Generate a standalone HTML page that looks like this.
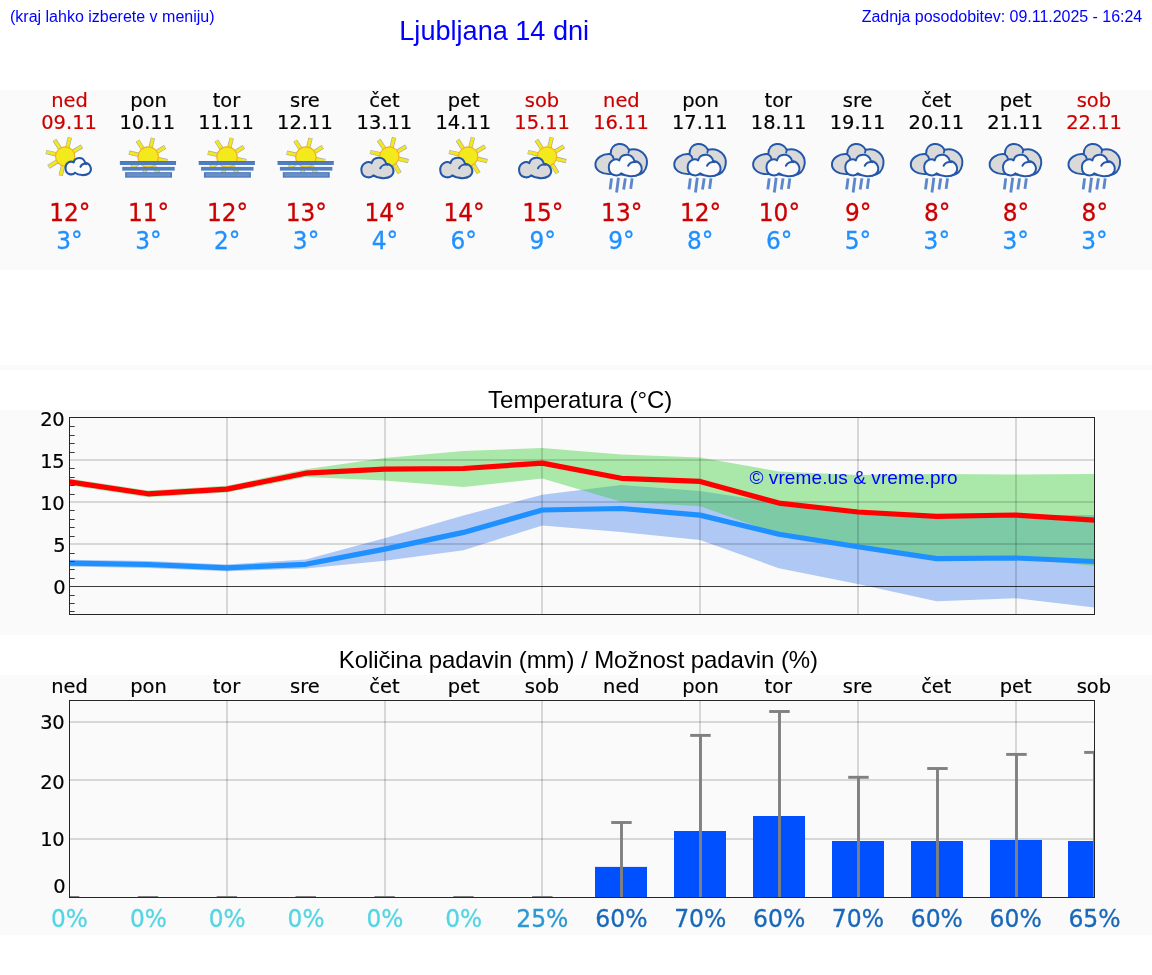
<!DOCTYPE html>
<html lang="sl"><head><meta charset="utf-8"><title>Ljubljana 14 dni</title>
<style>html,body{margin:0;padding:0;background:#fff}body{width:1152px;height:975px;overflow:hidden}svg{display:block}</style>
</head><body>
<svg width="1152" height="975" viewBox="0 0 1152 975">
<defs>
<clipPath id="ct"><rect x="69.5" y="417.5" width="1025.0" height="197.0"/></clipPath>
<clipPath id="cp"><rect x="69.5" y="700.5" width="1025.0" height="197.0"/></clipPath>
</defs>
<rect width="1152" height="975" fill="#fff"/>
<rect x="0" y="90" width="1152" height="180" fill="#fafafa"/>
<rect x="0" y="365" width="1152" height="5" fill="#fafafa"/>
<rect x="0" y="410" width="1152" height="225" fill="#fafafa"/>
<rect x="0" y="675" width="1152" height="260" fill="#fafafa"/>
<g style="font-family:'Liberation Sans',Arial,sans-serif" fill="#0000ff">
<text x="10" y="21.6" font-size="16">(kraj lahko izberete v meniju)</text>
<text x="399.3" y="40.2" font-size="27.1">Ljubljana 14 dni</text>
<text x="861.7" y="21.6" font-size="16" textLength="280.5" lengthAdjust="spacing">Zadnja posodobitev: 09.11.2025 - 16:24</text>
</g>
<g style="font-family:'DejaVu Sans','Liberation Sans',sans-serif" text-anchor="middle">
<text x="69.50" y="106.7" font-size="19.44" fill="#cc0000" stroke="#cc0000" stroke-width="0.2">ned</text>
<text x="69.05" y="129.2" font-size="19.44" fill="#cc0000" stroke="#cc0000" stroke-width="0.2">09.11</text>
<g transform="translate(69.50 0)"><g><g transform="translate(-34.5 130) scale(0.06151)"><line x1="619" y1="353" x2="764" y2="265" stroke="#6e6e80" stroke-opacity="0.6" stroke-width="70"/><line x1="526" y1="284" x2="567" y2="120" stroke="#6e6e80" stroke-opacity="0.6" stroke-width="70"/><line x1="408" y1="304" x2="316" y2="162" stroke="#6e6e80" stroke-opacity="0.6" stroke-width="70"/><line x1="344" y1="396" x2="178" y2="358" stroke="#6e6e80" stroke-opacity="0.6" stroke-width="70"/><line x1="363" y1="509" x2="219" y2="600" stroke="#6e6e80" stroke-opacity="0.6" stroke-width="70"/><line x1="456" y1="576" x2="418" y2="742" stroke="#6e6e80" stroke-opacity="0.6" stroke-width="70"/><line x1="619" y1="353" x2="759" y2="268" stroke="#f1e81e" stroke-width="50"/><line x1="526" y1="284" x2="566" y2="125" stroke="#f1e81e" stroke-width="50"/><line x1="408" y1="304" x2="319" y2="167" stroke="#f1e81e" stroke-width="50"/><line x1="344" y1="396" x2="184" y2="359" stroke="#f1e81e" stroke-width="50"/><line x1="363" y1="509" x2="224" y2="596" stroke="#f1e81e" stroke-width="50"/><line x1="456" y1="576" x2="419" y2="736" stroke="#f1e81e" stroke-width="50"/><circle cx="490" cy="430" r="156" fill="#f3ea1d" stroke="#f8ae1c" stroke-width="18"/><g transform="translate(349.18918918918916 74.8468468468468) scale(0.7927927927927928 0.8403603603603604)"><path d="M 380 738 C 335 790, 190 785, 185 650 C 182 545, 290 495, 352 538 C 375 440, 545 405, 590 548 C 700 560, 745 680, 665 750 C 600 800, 450 790, 380 738 Z" fill="#fcfcfc" stroke="#2457a9" stroke-width="42" stroke-linejoin="round"/><path d="M 492 622 C 510 582, 560 552, 612 566" fill="none" stroke="#2457a9" stroke-width="42" stroke-linecap="round"/></g></g></g></g>
<text transform="translate(69.80 220.8) scale(0.985 1.055)" font-size="23.61" fill="#cc0000" stroke="#cc0000" stroke-width="0.3">12°</text>
<text transform="translate(69.50 248.8) scale(0.985 1.055)" font-size="23.61" fill="#1e90ff" stroke="#1e90ff" stroke-width="0.3">3°</text>
<text x="148.55" y="106.7" font-size="19.44" fill="#000" stroke="#000" stroke-width="0.2">pon</text>
<text x="147.25" y="129.2" font-size="19.44" fill="#000" stroke="#000" stroke-width="0.2">10.11</text>
<g transform="translate(148.35 0)"><g><g transform="translate(-35.35 130) scale(0.06151)"><line x1="701" y1="363" x2="846" y2="275" stroke="#6e6e80" stroke-opacity="0.6" stroke-width="70"/><line x1="608" y1="294" x2="649" y2="130" stroke="#6e6e80" stroke-opacity="0.6" stroke-width="70"/><line x1="490" y1="314" x2="398" y2="172" stroke="#6e6e80" stroke-opacity="0.6" stroke-width="70"/><line x1="426" y1="406" x2="260" y2="368" stroke="#6e6e80" stroke-opacity="0.6" stroke-width="70"/><line x1="445" y1="519" x2="301" y2="610" stroke="#6e6e80" stroke-opacity="0.6" stroke-width="70"/><line x1="538" y1="586" x2="500" y2="752" stroke="#6e6e80" stroke-opacity="0.6" stroke-width="70"/><line x1="651" y1="567" x2="742" y2="711" stroke="#6e6e80" stroke-opacity="0.6" stroke-width="70"/><line x1="719" y1="471" x2="885" y2="507" stroke="#6e6e80" stroke-opacity="0.6" stroke-width="70"/><line x1="701" y1="363" x2="841" y2="278" stroke="#f1e81e" stroke-width="50"/><line x1="608" y1="294" x2="648" y2="135" stroke="#f1e81e" stroke-width="50"/><line x1="490" y1="314" x2="401" y2="177" stroke="#f1e81e" stroke-width="50"/><line x1="426" y1="406" x2="266" y2="369" stroke="#f1e81e" stroke-width="50"/><line x1="445" y1="519" x2="306" y2="606" stroke="#f1e81e" stroke-width="50"/><line x1="538" y1="586" x2="501" y2="746" stroke="#f1e81e" stroke-width="50"/><line x1="651" y1="567" x2="738" y2="706" stroke="#f1e81e" stroke-width="50"/><line x1="719" y1="471" x2="879" y2="505" stroke="#f1e81e" stroke-width="50"/><circle cx="572" cy="440" r="166" fill="#f3ea1d" stroke="#f8ae1c" stroke-width="18"/><rect x="112" y="505" width="913" height="64" fill="#4f7dbf"/><rect x="112" y="505" width="913" height="14" fill="#4673b8"/><rect x="150" y="600" width="853" height="60" fill="#5380c0"/><rect x="197" y="685" width="763" height="90" fill="#4c7abd"/><rect x="225" y="703" width="707" height="52" fill="#6b90c6"/></g></g></g>
<text transform="translate(148.65 220.8) scale(0.985 1.055)" font-size="23.61" fill="#cc0000" stroke="#cc0000" stroke-width="0.3">11°</text>
<text transform="translate(148.35 248.8) scale(0.985 1.055)" font-size="23.61" fill="#1e90ff" stroke="#1e90ff" stroke-width="0.3">3°</text>
<text x="226.39" y="106.7" font-size="19.44" fill="#000" stroke="#000" stroke-width="0.2">tor</text>
<text x="226.09" y="129.2" font-size="19.44" fill="#000" stroke="#000" stroke-width="0.2">11.11</text>
<g transform="translate(227.19 0)"><g><g transform="translate(-35.35 130) scale(0.06151)"><line x1="701" y1="363" x2="846" y2="275" stroke="#6e6e80" stroke-opacity="0.6" stroke-width="70"/><line x1="608" y1="294" x2="649" y2="130" stroke="#6e6e80" stroke-opacity="0.6" stroke-width="70"/><line x1="490" y1="314" x2="398" y2="172" stroke="#6e6e80" stroke-opacity="0.6" stroke-width="70"/><line x1="426" y1="406" x2="260" y2="368" stroke="#6e6e80" stroke-opacity="0.6" stroke-width="70"/><line x1="445" y1="519" x2="301" y2="610" stroke="#6e6e80" stroke-opacity="0.6" stroke-width="70"/><line x1="538" y1="586" x2="500" y2="752" stroke="#6e6e80" stroke-opacity="0.6" stroke-width="70"/><line x1="651" y1="567" x2="742" y2="711" stroke="#6e6e80" stroke-opacity="0.6" stroke-width="70"/><line x1="719" y1="471" x2="885" y2="507" stroke="#6e6e80" stroke-opacity="0.6" stroke-width="70"/><line x1="701" y1="363" x2="841" y2="278" stroke="#f1e81e" stroke-width="50"/><line x1="608" y1="294" x2="648" y2="135" stroke="#f1e81e" stroke-width="50"/><line x1="490" y1="314" x2="401" y2="177" stroke="#f1e81e" stroke-width="50"/><line x1="426" y1="406" x2="266" y2="369" stroke="#f1e81e" stroke-width="50"/><line x1="445" y1="519" x2="306" y2="606" stroke="#f1e81e" stroke-width="50"/><line x1="538" y1="586" x2="501" y2="746" stroke="#f1e81e" stroke-width="50"/><line x1="651" y1="567" x2="738" y2="706" stroke="#f1e81e" stroke-width="50"/><line x1="719" y1="471" x2="879" y2="505" stroke="#f1e81e" stroke-width="50"/><circle cx="572" cy="440" r="166" fill="#f3ea1d" stroke="#f8ae1c" stroke-width="18"/><rect x="112" y="505" width="913" height="64" fill="#4f7dbf"/><rect x="112" y="505" width="913" height="14" fill="#4673b8"/><rect x="150" y="600" width="853" height="60" fill="#5380c0"/><rect x="197" y="685" width="763" height="90" fill="#4c7abd"/><rect x="225" y="703" width="707" height="52" fill="#6b90c6"/></g></g></g>
<text transform="translate(227.49 220.8) scale(0.985 1.055)" font-size="23.61" fill="#cc0000" stroke="#cc0000" stroke-width="0.3">12°</text>
<text transform="translate(227.19 248.8) scale(0.985 1.055)" font-size="23.61" fill="#1e90ff" stroke="#1e90ff" stroke-width="0.3">2°</text>
<text x="304.84" y="106.7" font-size="19.44" fill="#000" stroke="#000" stroke-width="0.2">sre</text>
<text x="304.94" y="129.2" font-size="19.44" fill="#000" stroke="#000" stroke-width="0.2">12.11</text>
<g transform="translate(306.04 0)"><g><g transform="translate(-35.35 130) scale(0.06151)"><line x1="701" y1="363" x2="846" y2="275" stroke="#6e6e80" stroke-opacity="0.6" stroke-width="70"/><line x1="608" y1="294" x2="649" y2="130" stroke="#6e6e80" stroke-opacity="0.6" stroke-width="70"/><line x1="490" y1="314" x2="398" y2="172" stroke="#6e6e80" stroke-opacity="0.6" stroke-width="70"/><line x1="426" y1="406" x2="260" y2="368" stroke="#6e6e80" stroke-opacity="0.6" stroke-width="70"/><line x1="445" y1="519" x2="301" y2="610" stroke="#6e6e80" stroke-opacity="0.6" stroke-width="70"/><line x1="538" y1="586" x2="500" y2="752" stroke="#6e6e80" stroke-opacity="0.6" stroke-width="70"/><line x1="651" y1="567" x2="742" y2="711" stroke="#6e6e80" stroke-opacity="0.6" stroke-width="70"/><line x1="719" y1="471" x2="885" y2="507" stroke="#6e6e80" stroke-opacity="0.6" stroke-width="70"/><line x1="701" y1="363" x2="841" y2="278" stroke="#f1e81e" stroke-width="50"/><line x1="608" y1="294" x2="648" y2="135" stroke="#f1e81e" stroke-width="50"/><line x1="490" y1="314" x2="401" y2="177" stroke="#f1e81e" stroke-width="50"/><line x1="426" y1="406" x2="266" y2="369" stroke="#f1e81e" stroke-width="50"/><line x1="445" y1="519" x2="306" y2="606" stroke="#f1e81e" stroke-width="50"/><line x1="538" y1="586" x2="501" y2="746" stroke="#f1e81e" stroke-width="50"/><line x1="651" y1="567" x2="738" y2="706" stroke="#f1e81e" stroke-width="50"/><line x1="719" y1="471" x2="879" y2="505" stroke="#f1e81e" stroke-width="50"/><circle cx="572" cy="440" r="166" fill="#f3ea1d" stroke="#f8ae1c" stroke-width="18"/><rect x="112" y="505" width="913" height="64" fill="#4f7dbf"/><rect x="112" y="505" width="913" height="14" fill="#4673b8"/><rect x="150" y="600" width="853" height="60" fill="#5380c0"/><rect x="197" y="685" width="763" height="90" fill="#4c7abd"/><rect x="225" y="703" width="707" height="52" fill="#6b90c6"/></g></g></g>
<text transform="translate(306.34 220.8) scale(0.985 1.055)" font-size="23.61" fill="#cc0000" stroke="#cc0000" stroke-width="0.3">13°</text>
<text transform="translate(306.04 248.8) scale(0.985 1.055)" font-size="23.61" fill="#1e90ff" stroke="#1e90ff" stroke-width="0.3">3°</text>
<text x="384.38" y="106.7" font-size="19.44" fill="#000" stroke="#000" stroke-width="0.2">čet</text>
<text x="384.43" y="129.2" font-size="19.44" fill="#000" stroke="#000" stroke-width="0.2">13.11</text>
<g transform="translate(384.88 0)"><g><g transform="translate(-34.88 130) scale(0.06151)"><line x1="769" y1="353" x2="914" y2="265" stroke="#6e6e80" stroke-opacity="0.6" stroke-width="70"/><line x1="676" y1="284" x2="717" y2="120" stroke="#6e6e80" stroke-opacity="0.6" stroke-width="70"/><line x1="558" y1="304" x2="466" y2="162" stroke="#6e6e80" stroke-opacity="0.6" stroke-width="70"/><line x1="494" y1="396" x2="328" y2="358" stroke="#6e6e80" stroke-opacity="0.6" stroke-width="70"/><line x1="719" y1="557" x2="810" y2="701" stroke="#6e6e80" stroke-opacity="0.6" stroke-width="70"/><line x1="786" y1="466" x2="950" y2="507" stroke="#6e6e80" stroke-opacity="0.6" stroke-width="70"/><line x1="769" y1="353" x2="909" y2="268" stroke="#f1e81e" stroke-width="50"/><line x1="676" y1="284" x2="716" y2="125" stroke="#f1e81e" stroke-width="50"/><line x1="558" y1="304" x2="469" y2="167" stroke="#f1e81e" stroke-width="50"/><line x1="494" y1="396" x2="334" y2="359" stroke="#f1e81e" stroke-width="50"/><line x1="719" y1="557" x2="806" y2="696" stroke="#f1e81e" stroke-width="50"/><line x1="786" y1="466" x2="945" y2="506" stroke="#f1e81e" stroke-width="50"/><circle cx="640" cy="430" r="156" fill="#f3ea1d" stroke="#f8ae1c" stroke-width="18"/><g transform="translate(0 0) scale(1.0 1.0)"><path d="M 380 738 C 335 790, 190 785, 185 650 C 182 545, 290 495, 352 538 C 375 440, 545 405, 590 548 C 700 560, 745 680, 665 750 C 600 800, 450 790, 380 738 Z" fill="#d9d9d9" stroke="#2457a9" stroke-width="33" stroke-linejoin="round"/><path d="M 492 622 C 510 582, 560 552, 612 566" fill="none" stroke="#2457a9" stroke-width="33" stroke-linecap="round"/></g></g></g></g>
<text transform="translate(385.18 220.8) scale(0.985 1.055)" font-size="23.61" fill="#cc0000" stroke="#cc0000" stroke-width="0.3">14°</text>
<text transform="translate(384.88 248.8) scale(0.985 1.055)" font-size="23.61" fill="#1e90ff" stroke="#1e90ff" stroke-width="0.3">4°</text>
<text x="463.73" y="106.7" font-size="19.44" fill="#000" stroke="#000" stroke-width="0.2">pet</text>
<text x="463.28" y="129.2" font-size="19.44" fill="#000" stroke="#000" stroke-width="0.2">14.11</text>
<g transform="translate(463.73 0)"><g><g transform="translate(-34.88 130) scale(0.06151)"><line x1="769" y1="353" x2="914" y2="265" stroke="#6e6e80" stroke-opacity="0.6" stroke-width="70"/><line x1="676" y1="284" x2="717" y2="120" stroke="#6e6e80" stroke-opacity="0.6" stroke-width="70"/><line x1="558" y1="304" x2="466" y2="162" stroke="#6e6e80" stroke-opacity="0.6" stroke-width="70"/><line x1="494" y1="396" x2="328" y2="358" stroke="#6e6e80" stroke-opacity="0.6" stroke-width="70"/><line x1="719" y1="557" x2="810" y2="701" stroke="#6e6e80" stroke-opacity="0.6" stroke-width="70"/><line x1="786" y1="466" x2="950" y2="507" stroke="#6e6e80" stroke-opacity="0.6" stroke-width="70"/><line x1="769" y1="353" x2="909" y2="268" stroke="#f1e81e" stroke-width="50"/><line x1="676" y1="284" x2="716" y2="125" stroke="#f1e81e" stroke-width="50"/><line x1="558" y1="304" x2="469" y2="167" stroke="#f1e81e" stroke-width="50"/><line x1="494" y1="396" x2="334" y2="359" stroke="#f1e81e" stroke-width="50"/><line x1="719" y1="557" x2="806" y2="696" stroke="#f1e81e" stroke-width="50"/><line x1="786" y1="466" x2="945" y2="506" stroke="#f1e81e" stroke-width="50"/><circle cx="640" cy="430" r="156" fill="#f3ea1d" stroke="#f8ae1c" stroke-width="18"/><g transform="translate(0 0) scale(1.0 1.0)"><path d="M 380 738 C 335 790, 190 785, 185 650 C 182 545, 290 495, 352 538 C 375 440, 545 405, 590 548 C 700 560, 745 680, 665 750 C 600 800, 450 790, 380 738 Z" fill="#d9d9d9" stroke="#2457a9" stroke-width="33" stroke-linejoin="round"/><path d="M 492 622 C 510 582, 560 552, 612 566" fill="none" stroke="#2457a9" stroke-width="33" stroke-linecap="round"/></g></g></g></g>
<text transform="translate(464.03 220.8) scale(0.985 1.055)" font-size="23.61" fill="#cc0000" stroke="#cc0000" stroke-width="0.3">14°</text>
<text transform="translate(463.73 248.8) scale(0.985 1.055)" font-size="23.61" fill="#1e90ff" stroke="#1e90ff" stroke-width="0.3">6°</text>
<text x="541.98" y="106.7" font-size="19.44" fill="#cc0000" stroke="#cc0000" stroke-width="0.2">sob</text>
<text x="542.13" y="129.2" font-size="19.44" fill="#cc0000" stroke="#cc0000" stroke-width="0.2">15.11</text>
<g transform="translate(542.58 0)"><g><g transform="translate(-34.88 130) scale(0.06151)"><line x1="769" y1="353" x2="914" y2="265" stroke="#6e6e80" stroke-opacity="0.6" stroke-width="70"/><line x1="676" y1="284" x2="717" y2="120" stroke="#6e6e80" stroke-opacity="0.6" stroke-width="70"/><line x1="558" y1="304" x2="466" y2="162" stroke="#6e6e80" stroke-opacity="0.6" stroke-width="70"/><line x1="494" y1="396" x2="328" y2="358" stroke="#6e6e80" stroke-opacity="0.6" stroke-width="70"/><line x1="719" y1="557" x2="810" y2="701" stroke="#6e6e80" stroke-opacity="0.6" stroke-width="70"/><line x1="786" y1="466" x2="950" y2="507" stroke="#6e6e80" stroke-opacity="0.6" stroke-width="70"/><line x1="769" y1="353" x2="909" y2="268" stroke="#f1e81e" stroke-width="50"/><line x1="676" y1="284" x2="716" y2="125" stroke="#f1e81e" stroke-width="50"/><line x1="558" y1="304" x2="469" y2="167" stroke="#f1e81e" stroke-width="50"/><line x1="494" y1="396" x2="334" y2="359" stroke="#f1e81e" stroke-width="50"/><line x1="719" y1="557" x2="806" y2="696" stroke="#f1e81e" stroke-width="50"/><line x1="786" y1="466" x2="945" y2="506" stroke="#f1e81e" stroke-width="50"/><circle cx="640" cy="430" r="156" fill="#f3ea1d" stroke="#f8ae1c" stroke-width="18"/><g transform="translate(0 0) scale(1.0 1.0)"><path d="M 380 738 C 335 790, 190 785, 185 650 C 182 545, 290 495, 352 538 C 375 440, 545 405, 590 548 C 700 560, 745 680, 665 750 C 600 800, 450 790, 380 738 Z" fill="#d9d9d9" stroke="#2457a9" stroke-width="33" stroke-linejoin="round"/><path d="M 492 622 C 510 582, 560 552, 612 566" fill="none" stroke="#2457a9" stroke-width="33" stroke-linecap="round"/></g></g></g></g>
<text transform="translate(542.88 220.8) scale(0.985 1.055)" font-size="23.61" fill="#cc0000" stroke="#cc0000" stroke-width="0.3">15°</text>
<text transform="translate(542.58 248.8) scale(0.985 1.055)" font-size="23.61" fill="#1e90ff" stroke="#1e90ff" stroke-width="0.3">9°</text>
<text x="621.42" y="106.7" font-size="19.44" fill="#cc0000" stroke="#cc0000" stroke-width="0.2">ned</text>
<text x="620.97" y="129.2" font-size="19.44" fill="#cc0000" stroke="#cc0000" stroke-width="0.2">16.11</text>
<g transform="translate(621.42 0)"><g><g transform="translate(-35.42 135) scale(0.06151)"><path d="M 400 312 C 400 105, 640 105, 700 240 C 880 195, 1015 335, 988 485 C 970 585, 900 645, 820 655 L 400 635 C 250 645, 150 565, 153 475 C 158 375, 270 300, 400 312 Z" fill="#d9d9d9" stroke="#2457a9" stroke-width="32" stroke-linejoin="round"/><path d="M 400 312 C 430 330, 445 355, 450 388" fill="none" stroke="#2457a9" stroke-width="30" stroke-linecap="round"/><path d="M 700 240 C 700 255, 695 272, 690 288" fill="none" stroke="#2457a9" stroke-width="30" stroke-linecap="round"/><g transform="translate(180.54054054054055 -157.58108108108104) scale(1.027027027027027 1.057837837837838)"><path d="M 380 738 C 335 790, 190 785, 185 650 C 182 545, 290 495, 352 538 C 375 440, 545 405, 590 548 C 700 560, 745 680, 665 750 C 600 800, 450 790, 380 738 Z" fill="#fbfbfb" stroke="#2457a9" stroke-width="31" stroke-linejoin="round"/><path d="M 492 622 C 510 582, 560 552, 612 566" fill="none" stroke="#2457a9" stroke-width="31" stroke-linecap="round"/></g><line x1="415" y1="705" x2="392" y2="885" stroke="#4a7ac4" stroke-opacity="0.9" stroke-width="46"/><line x1="528" y1="695" x2="497" y2="935" stroke="#4a7ac4" stroke-opacity="0.9" stroke-width="46"/><line x1="640" y1="705" x2="612" y2="885" stroke="#4a7ac4" stroke-opacity="0.9" stroke-width="46"/><line x1="750" y1="705" x2="727" y2="875" stroke="#4a7ac4" stroke-opacity="0.9" stroke-width="46"/></g></g></g>
<text transform="translate(621.72 220.8) scale(0.985 1.055)" font-size="23.61" fill="#cc0000" stroke="#cc0000" stroke-width="0.3">13°</text>
<text transform="translate(621.42 248.8) scale(0.985 1.055)" font-size="23.61" fill="#1e90ff" stroke="#1e90ff" stroke-width="0.3">9°</text>
<text x="700.47" y="106.7" font-size="19.44" fill="#000" stroke="#000" stroke-width="0.2">pon</text>
<text x="699.82" y="129.2" font-size="19.44" fill="#000" stroke="#000" stroke-width="0.2">17.11</text>
<g transform="translate(700.27 0)"><g><g transform="translate(-35.42 135) scale(0.06151)"><path d="M 400 312 C 400 105, 640 105, 700 240 C 880 195, 1015 335, 988 485 C 970 585, 900 645, 820 655 L 400 635 C 250 645, 150 565, 153 475 C 158 375, 270 300, 400 312 Z" fill="#d9d9d9" stroke="#2457a9" stroke-width="32" stroke-linejoin="round"/><path d="M 400 312 C 430 330, 445 355, 450 388" fill="none" stroke="#2457a9" stroke-width="30" stroke-linecap="round"/><path d="M 700 240 C 700 255, 695 272, 690 288" fill="none" stroke="#2457a9" stroke-width="30" stroke-linecap="round"/><g transform="translate(180.54054054054055 -157.58108108108104) scale(1.027027027027027 1.057837837837838)"><path d="M 380 738 C 335 790, 190 785, 185 650 C 182 545, 290 495, 352 538 C 375 440, 545 405, 590 548 C 700 560, 745 680, 665 750 C 600 800, 450 790, 380 738 Z" fill="#fbfbfb" stroke="#2457a9" stroke-width="31" stroke-linejoin="round"/><path d="M 492 622 C 510 582, 560 552, 612 566" fill="none" stroke="#2457a9" stroke-width="31" stroke-linecap="round"/></g><line x1="415" y1="705" x2="392" y2="885" stroke="#4a7ac4" stroke-opacity="0.9" stroke-width="46"/><line x1="528" y1="695" x2="497" y2="935" stroke="#4a7ac4" stroke-opacity="0.9" stroke-width="46"/><line x1="640" y1="705" x2="612" y2="885" stroke="#4a7ac4" stroke-opacity="0.9" stroke-width="46"/><line x1="750" y1="705" x2="727" y2="875" stroke="#4a7ac4" stroke-opacity="0.9" stroke-width="46"/></g></g></g>
<text transform="translate(700.57 220.8) scale(0.985 1.055)" font-size="23.61" fill="#cc0000" stroke="#cc0000" stroke-width="0.3">12°</text>
<text transform="translate(700.27 248.8) scale(0.985 1.055)" font-size="23.61" fill="#1e90ff" stroke="#1e90ff" stroke-width="0.3">8°</text>
<text x="778.32" y="106.7" font-size="19.44" fill="#000" stroke="#000" stroke-width="0.2">tor</text>
<text x="778.67" y="129.2" font-size="19.44" fill="#000" stroke="#000" stroke-width="0.2">18.11</text>
<g transform="translate(779.12 0)"><g><g transform="translate(-35.42 135) scale(0.06151)"><path d="M 400 312 C 400 105, 640 105, 700 240 C 880 195, 1015 335, 988 485 C 970 585, 900 645, 820 655 L 400 635 C 250 645, 150 565, 153 475 C 158 375, 270 300, 400 312 Z" fill="#d9d9d9" stroke="#2457a9" stroke-width="32" stroke-linejoin="round"/><path d="M 400 312 C 430 330, 445 355, 450 388" fill="none" stroke="#2457a9" stroke-width="30" stroke-linecap="round"/><path d="M 700 240 C 700 255, 695 272, 690 288" fill="none" stroke="#2457a9" stroke-width="30" stroke-linecap="round"/><g transform="translate(180.54054054054055 -157.58108108108104) scale(1.027027027027027 1.057837837837838)"><path d="M 380 738 C 335 790, 190 785, 185 650 C 182 545, 290 495, 352 538 C 375 440, 545 405, 590 548 C 700 560, 745 680, 665 750 C 600 800, 450 790, 380 738 Z" fill="#fbfbfb" stroke="#2457a9" stroke-width="31" stroke-linejoin="round"/><path d="M 492 622 C 510 582, 560 552, 612 566" fill="none" stroke="#2457a9" stroke-width="31" stroke-linecap="round"/></g><line x1="415" y1="705" x2="392" y2="885" stroke="#4a7ac4" stroke-opacity="0.9" stroke-width="46"/><line x1="528" y1="695" x2="497" y2="935" stroke="#4a7ac4" stroke-opacity="0.9" stroke-width="46"/><line x1="640" y1="705" x2="612" y2="885" stroke="#4a7ac4" stroke-opacity="0.9" stroke-width="46"/><line x1="750" y1="705" x2="727" y2="875" stroke="#4a7ac4" stroke-opacity="0.9" stroke-width="46"/></g></g></g>
<text transform="translate(779.42 220.8) scale(0.985 1.055)" font-size="23.61" fill="#cc0000" stroke="#cc0000" stroke-width="0.3">10°</text>
<text transform="translate(779.12 248.8) scale(0.985 1.055)" font-size="23.61" fill="#1e90ff" stroke="#1e90ff" stroke-width="0.3">6°</text>
<text x="857.66" y="106.7" font-size="19.44" fill="#000" stroke="#000" stroke-width="0.2">sre</text>
<text x="857.51" y="129.2" font-size="19.44" fill="#000" stroke="#000" stroke-width="0.2">19.11</text>
<g transform="translate(857.96 0)"><g><g transform="translate(-35.42 135) scale(0.06151)"><path d="M 400 312 C 400 105, 640 105, 700 240 C 880 195, 1015 335, 988 485 C 970 585, 900 645, 820 655 L 400 635 C 250 645, 150 565, 153 475 C 158 375, 270 300, 400 312 Z" fill="#d9d9d9" stroke="#2457a9" stroke-width="32" stroke-linejoin="round"/><path d="M 400 312 C 430 330, 445 355, 450 388" fill="none" stroke="#2457a9" stroke-width="30" stroke-linecap="round"/><path d="M 700 240 C 700 255, 695 272, 690 288" fill="none" stroke="#2457a9" stroke-width="30" stroke-linecap="round"/><g transform="translate(180.54054054054055 -157.58108108108104) scale(1.027027027027027 1.057837837837838)"><path d="M 380 738 C 335 790, 190 785, 185 650 C 182 545, 290 495, 352 538 C 375 440, 545 405, 590 548 C 700 560, 745 680, 665 750 C 600 800, 450 790, 380 738 Z" fill="#fbfbfb" stroke="#2457a9" stroke-width="31" stroke-linejoin="round"/><path d="M 492 622 C 510 582, 560 552, 612 566" fill="none" stroke="#2457a9" stroke-width="31" stroke-linecap="round"/></g><line x1="415" y1="705" x2="392" y2="885" stroke="#4a7ac4" stroke-opacity="0.9" stroke-width="46"/><line x1="528" y1="695" x2="497" y2="935" stroke="#4a7ac4" stroke-opacity="0.9" stroke-width="46"/><line x1="640" y1="705" x2="612" y2="885" stroke="#4a7ac4" stroke-opacity="0.9" stroke-width="46"/><line x1="750" y1="705" x2="727" y2="875" stroke="#4a7ac4" stroke-opacity="0.9" stroke-width="46"/></g></g></g>
<text transform="translate(858.26 220.8) scale(0.985 1.055)" font-size="23.61" fill="#cc0000" stroke="#cc0000" stroke-width="0.3">9°</text>
<text transform="translate(857.96 248.8) scale(0.985 1.055)" font-size="23.61" fill="#1e90ff" stroke="#1e90ff" stroke-width="0.3">5°</text>
<text x="936.31" y="106.7" font-size="19.44" fill="#000" stroke="#000" stroke-width="0.2">čet</text>
<text x="936.36" y="129.2" font-size="19.44" fill="#000" stroke="#000" stroke-width="0.2">20.11</text>
<g transform="translate(936.81 0)"><g><g transform="translate(-35.42 135) scale(0.06151)"><path d="M 400 312 C 400 105, 640 105, 700 240 C 880 195, 1015 335, 988 485 C 970 585, 900 645, 820 655 L 400 635 C 250 645, 150 565, 153 475 C 158 375, 270 300, 400 312 Z" fill="#d9d9d9" stroke="#2457a9" stroke-width="32" stroke-linejoin="round"/><path d="M 400 312 C 430 330, 445 355, 450 388" fill="none" stroke="#2457a9" stroke-width="30" stroke-linecap="round"/><path d="M 700 240 C 700 255, 695 272, 690 288" fill="none" stroke="#2457a9" stroke-width="30" stroke-linecap="round"/><g transform="translate(180.54054054054055 -157.58108108108104) scale(1.027027027027027 1.057837837837838)"><path d="M 380 738 C 335 790, 190 785, 185 650 C 182 545, 290 495, 352 538 C 375 440, 545 405, 590 548 C 700 560, 745 680, 665 750 C 600 800, 450 790, 380 738 Z" fill="#fbfbfb" stroke="#2457a9" stroke-width="31" stroke-linejoin="round"/><path d="M 492 622 C 510 582, 560 552, 612 566" fill="none" stroke="#2457a9" stroke-width="31" stroke-linecap="round"/></g><line x1="415" y1="705" x2="392" y2="885" stroke="#4a7ac4" stroke-opacity="0.9" stroke-width="46"/><line x1="528" y1="695" x2="497" y2="935" stroke="#4a7ac4" stroke-opacity="0.9" stroke-width="46"/><line x1="640" y1="705" x2="612" y2="885" stroke="#4a7ac4" stroke-opacity="0.9" stroke-width="46"/><line x1="750" y1="705" x2="727" y2="875" stroke="#4a7ac4" stroke-opacity="0.9" stroke-width="46"/></g></g></g>
<text transform="translate(937.11 220.8) scale(0.985 1.055)" font-size="23.61" fill="#cc0000" stroke="#cc0000" stroke-width="0.3">8°</text>
<text transform="translate(936.81 248.8) scale(0.985 1.055)" font-size="23.61" fill="#1e90ff" stroke="#1e90ff" stroke-width="0.3">3°</text>
<text x="1015.65" y="106.7" font-size="19.44" fill="#000" stroke="#000" stroke-width="0.2">pet</text>
<text x="1015.20" y="129.2" font-size="19.44" fill="#000" stroke="#000" stroke-width="0.2">21.11</text>
<g transform="translate(1015.65 0)"><g><g transform="translate(-35.42 135) scale(0.06151)"><path d="M 400 312 C 400 105, 640 105, 700 240 C 880 195, 1015 335, 988 485 C 970 585, 900 645, 820 655 L 400 635 C 250 645, 150 565, 153 475 C 158 375, 270 300, 400 312 Z" fill="#d9d9d9" stroke="#2457a9" stroke-width="32" stroke-linejoin="round"/><path d="M 400 312 C 430 330, 445 355, 450 388" fill="none" stroke="#2457a9" stroke-width="30" stroke-linecap="round"/><path d="M 700 240 C 700 255, 695 272, 690 288" fill="none" stroke="#2457a9" stroke-width="30" stroke-linecap="round"/><g transform="translate(180.54054054054055 -157.58108108108104) scale(1.027027027027027 1.057837837837838)"><path d="M 380 738 C 335 790, 190 785, 185 650 C 182 545, 290 495, 352 538 C 375 440, 545 405, 590 548 C 700 560, 745 680, 665 750 C 600 800, 450 790, 380 738 Z" fill="#fbfbfb" stroke="#2457a9" stroke-width="31" stroke-linejoin="round"/><path d="M 492 622 C 510 582, 560 552, 612 566" fill="none" stroke="#2457a9" stroke-width="31" stroke-linecap="round"/></g><line x1="415" y1="705" x2="392" y2="885" stroke="#4a7ac4" stroke-opacity="0.9" stroke-width="46"/><line x1="528" y1="695" x2="497" y2="935" stroke="#4a7ac4" stroke-opacity="0.9" stroke-width="46"/><line x1="640" y1="705" x2="612" y2="885" stroke="#4a7ac4" stroke-opacity="0.9" stroke-width="46"/><line x1="750" y1="705" x2="727" y2="875" stroke="#4a7ac4" stroke-opacity="0.9" stroke-width="46"/></g></g></g>
<text transform="translate(1015.95 220.8) scale(0.985 1.055)" font-size="23.61" fill="#cc0000" stroke="#cc0000" stroke-width="0.3">8°</text>
<text transform="translate(1015.65 248.8) scale(0.985 1.055)" font-size="23.61" fill="#1e90ff" stroke="#1e90ff" stroke-width="0.3">3°</text>
<text x="1093.90" y="106.7" font-size="19.44" fill="#cc0000" stroke="#cc0000" stroke-width="0.2">sob</text>
<text x="1094.05" y="129.2" font-size="19.44" fill="#cc0000" stroke="#cc0000" stroke-width="0.2">22.11</text>
<g transform="translate(1094.50 0)"><g><g transform="translate(-35.42 135) scale(0.06151)"><path d="M 400 312 C 400 105, 640 105, 700 240 C 880 195, 1015 335, 988 485 C 970 585, 900 645, 820 655 L 400 635 C 250 645, 150 565, 153 475 C 158 375, 270 300, 400 312 Z" fill="#d9d9d9" stroke="#2457a9" stroke-width="32" stroke-linejoin="round"/><path d="M 400 312 C 430 330, 445 355, 450 388" fill="none" stroke="#2457a9" stroke-width="30" stroke-linecap="round"/><path d="M 700 240 C 700 255, 695 272, 690 288" fill="none" stroke="#2457a9" stroke-width="30" stroke-linecap="round"/><g transform="translate(180.54054054054055 -157.58108108108104) scale(1.027027027027027 1.057837837837838)"><path d="M 380 738 C 335 790, 190 785, 185 650 C 182 545, 290 495, 352 538 C 375 440, 545 405, 590 548 C 700 560, 745 680, 665 750 C 600 800, 450 790, 380 738 Z" fill="#fbfbfb" stroke="#2457a9" stroke-width="31" stroke-linejoin="round"/><path d="M 492 622 C 510 582, 560 552, 612 566" fill="none" stroke="#2457a9" stroke-width="31" stroke-linecap="round"/></g><line x1="415" y1="705" x2="392" y2="885" stroke="#4a7ac4" stroke-opacity="0.9" stroke-width="46"/><line x1="528" y1="695" x2="497" y2="935" stroke="#4a7ac4" stroke-opacity="0.9" stroke-width="46"/><line x1="640" y1="705" x2="612" y2="885" stroke="#4a7ac4" stroke-opacity="0.9" stroke-width="46"/><line x1="750" y1="705" x2="727" y2="875" stroke="#4a7ac4" stroke-opacity="0.9" stroke-width="46"/></g></g></g>
<text transform="translate(1094.80 220.8) scale(0.985 1.055)" font-size="23.61" fill="#cc0000" stroke="#cc0000" stroke-width="0.3">8°</text>
<text transform="translate(1094.50 248.8) scale(0.985 1.055)" font-size="23.61" fill="#1e90ff" stroke="#1e90ff" stroke-width="0.3">3°</text>
</g>
<text x="580.2" y="407.8" font-size="24" text-anchor="middle" style="font-family:'Liberation Sans',Arial,sans-serif" fill="#000">Temperatura (°C)</text>
<g clip-path="url(#ct)">
<polygon points="69.12,559.70 147.99,561.10 226.86,564.40 305.72,559.60 384.59,538.20 463.46,515.40 542.33,494.70 621.19,484.90 700.06,491.00 778.93,503.10 857.80,512.00 936.66,516.40 1015.53,515.00 1094.40,515.00 1094.40,607.40 1015.53,598.30 936.66,601.30 857.80,583.90 778.93,568.20 700.06,539.90 621.19,532.00 542.33,525.40 463.46,550.30 384.59,560.80 305.72,568.60 226.86,571.20 147.99,567.90 69.12,566.50" fill="rgba(100,149,237,0.5)"/>
<polygon points="69.12,478.40 147.99,490.40 226.86,485.70 305.72,469.30 384.59,457.90 463.46,450.90 542.33,447.90 621.19,454.40 700.06,457.40 778.93,471.40 857.80,474.90 936.66,474.00 1015.53,474.50 1094.40,474.00 1094.40,565.90 1015.53,558.00 936.66,558.60 857.80,546.70 778.93,534.20 700.06,506.20 621.19,501.80 542.33,478.60 463.46,487.00 384.59,480.60 305.72,477.10 226.86,492.50 147.99,497.20 69.12,485.20" fill="rgba(50,205,50,0.4)"/>
<rect x="69.5" y="543" width="1025.0" height="2" fill="#000" fill-opacity="0.138"/>
<rect x="69.5" y="501" width="1025.0" height="2" fill="#000" fill-opacity="0.138"/>
<rect x="69.5" y="459" width="1025.0" height="2" fill="#000" fill-opacity="0.138"/>
<rect x="226" y="417.5" width="2" height="197.0" fill="#000" fill-opacity="0.138"/>
<rect x="384" y="417.5" width="2" height="197.0" fill="#000" fill-opacity="0.138"/>
<rect x="541" y="417.5" width="2" height="197.0" fill="#000" fill-opacity="0.138"/>
<rect x="699" y="417.5" width="2" height="197.0" fill="#000" fill-opacity="0.138"/>
<rect x="857" y="417.5" width="2" height="197.0" fill="#000" fill-opacity="0.138"/>
<rect x="1015" y="417.5" width="2" height="197.0" fill="#000" fill-opacity="0.138"/>
<rect x="69.5" y="586" width="1025.0" height="1" fill="#000" fill-opacity="0.76"/>
<polyline points="69.12,563.10 147.99,564.50 226.86,567.80 305.72,564.30 384.59,549.10 463.46,532.40 542.33,510.00 621.19,508.50 700.06,515.10 778.93,534.20 857.80,546.70 936.66,558.60 1015.53,558.00 1094.40,561.50" fill="none" stroke="#1e90ff" stroke-width="5.2" stroke-linejoin="round" stroke-linecap="butt"/>
<polyline points="69.12,481.80 147.99,493.80 226.86,489.10 305.72,473.20 384.59,469.20 463.46,468.50 542.33,463.10 621.19,478.30 700.06,481.40 778.93,503.10 857.80,512.00 936.66,516.40 1015.53,515.00 1094.40,520.20" fill="none" stroke="#ff0000" stroke-width="5.2" stroke-linejoin="round" stroke-linecap="butt"/>
</g>
<rect x="70" y="611" width="4.7" height="1" fill="#3c3c3c"/>
<rect x="70" y="603" width="4.7" height="1" fill="#3c3c3c"/>
<rect x="70" y="595" width="4.7" height="1" fill="#3c3c3c"/>
<rect x="70" y="578" width="4.7" height="1" fill="#3c3c3c"/>
<rect x="70" y="569" width="4.7" height="1" fill="#3c3c3c"/>
<rect x="70" y="561" width="4.7" height="1" fill="#3c3c3c"/>
<rect x="70" y="553" width="4.7" height="1" fill="#3c3c3c"/>
<rect x="70" y="536" width="4.7" height="1" fill="#3c3c3c"/>
<rect x="70" y="527" width="4.7" height="1" fill="#3c3c3c"/>
<rect x="70" y="519" width="4.7" height="1" fill="#3c3c3c"/>
<rect x="70" y="510" width="4.7" height="1" fill="#3c3c3c"/>
<rect x="70" y="494" width="4.7" height="1" fill="#3c3c3c"/>
<rect x="70" y="485" width="4.7" height="1" fill="#3c3c3c"/>
<rect x="70" y="477" width="4.7" height="1" fill="#3c3c3c"/>
<rect x="70" y="468" width="4.7" height="1" fill="#3c3c3c"/>
<rect x="70" y="452" width="4.7" height="1" fill="#3c3c3c"/>
<rect x="70" y="443" width="4.7" height="1" fill="#3c3c3c"/>
<rect x="70" y="435" width="4.7" height="1" fill="#3c3c3c"/>
<rect x="70" y="426" width="4.7" height="1" fill="#3c3c3c"/>
<rect x="69" y="417.0" width="1026" height="1" fill="#262626"/>
<rect x="69" y="614.0" width="1026" height="1" fill="#262626"/>
<rect x="69" y="417.0" width="1" height="198.0" fill="#262626"/>
<rect x="1094" y="417.0" width="1" height="198.0" fill="#262626"/>
<g style="font-family:'DejaVu Sans','Liberation Sans',sans-serif" font-size="19.44" text-anchor="end" fill="#000" stroke="#000" stroke-width="0.2">
<text x="65.6" y="594.40">0</text>
<text x="65.6" y="552.25">5</text>
<text x="64.5" y="510.10" textLength="24.2" lengthAdjust="spacing">10</text>
<text x="64.5" y="467.95" textLength="24.2" lengthAdjust="spacing">15</text>
<text x="64.5" y="425.80" textLength="24.2" lengthAdjust="spacing">20</text>
</g>
<text x="749.4" y="483.6" font-size="19" textLength="208.2" lengthAdjust="spacing" style="font-family:'Liberation Sans',Arial,sans-serif" fill="#0000ff">© vreme.us &amp; vreme.pro</text>
<text x="578.4" y="667.9" font-size="24" text-anchor="middle" textLength="479.3" lengthAdjust="spacing" style="font-family:'Liberation Sans',Arial,sans-serif" fill="#000">Količina padavin (mm) / Možnost padavin (%)</text>
<g style="font-family:'DejaVu Sans','Liberation Sans',sans-serif" font-size="19.44" text-anchor="middle" fill="#000" stroke="#000" stroke-width="0.2">
<text x="69.50" y="692.6">ned</text>
<text x="148.55" y="692.6">pon</text>
<text x="226.39" y="692.6">tor</text>
<text x="304.84" y="692.6">sre</text>
<text x="384.38" y="692.6">čet</text>
<text x="463.73" y="692.6">pet</text>
<text x="541.98" y="692.6">sob</text>
<text x="621.42" y="692.6">ned</text>
<text x="700.47" y="692.6">pon</text>
<text x="778.32" y="692.6">tor</text>
<text x="857.66" y="692.6">sre</text>
<text x="936.31" y="692.6">čet</text>
<text x="1015.65" y="692.6">pet</text>
<text x="1093.90" y="692.6">sob</text>
</g>
<g clip-path="url(#cp)">
<rect x="69.5" y="838" width="1025.0" height="2" fill="#000" fill-opacity="0.138"/>
<rect x="69.5" y="779" width="1025.0" height="2" fill="#000" fill-opacity="0.138"/>
<rect x="69.5" y="721" width="1025.0" height="2" fill="#000" fill-opacity="0.138"/>
<rect x="226" y="700.5" width="2" height="197.0" fill="#000" fill-opacity="0.138"/>
<rect x="384" y="700.5" width="2" height="197.0" fill="#000" fill-opacity="0.138"/>
<rect x="541" y="700.5" width="2" height="197.0" fill="#000" fill-opacity="0.138"/>
<rect x="699" y="700.5" width="2" height="197.0" fill="#000" fill-opacity="0.138"/>
<rect x="857" y="700.5" width="2" height="197.0" fill="#000" fill-opacity="0.138"/>
<rect x="1015" y="700.5" width="2" height="197.0" fill="#000" fill-opacity="0.138"/>
<rect x="595" y="866.90" width="52" height="30.60" fill="#0050ff"/>
<rect x="674" y="831.00" width="52" height="66.50" fill="#0050ff"/>
<rect x="753" y="816.00" width="52" height="81.50" fill="#0050ff"/>
<rect x="832" y="841.00" width="52" height="56.50" fill="#0050ff"/>
<rect x="911" y="841.00" width="52" height="56.50" fill="#0050ff"/>
<rect x="990" y="840.00" width="52" height="57.50" fill="#0050ff"/>
<rect x="1068" y="841.00" width="52" height="56.50" fill="#0050ff"/>
<line x1="58.92" x2="79.32" y1="897.5" y2="897.5" stroke="#808080" stroke-width="2.9"/>
<line x1="137.79" x2="158.19" y1="897.5" y2="897.5" stroke="#808080" stroke-width="2.9"/>
<line x1="216.66" x2="237.06" y1="897.5" y2="897.5" stroke="#808080" stroke-width="2.9"/>
<line x1="295.52" x2="315.92" y1="897.5" y2="897.5" stroke="#808080" stroke-width="2.9"/>
<line x1="374.39" x2="394.79" y1="897.5" y2="897.5" stroke="#808080" stroke-width="2.9"/>
<line x1="453.26" x2="473.66" y1="897.5" y2="897.5" stroke="#808080" stroke-width="2.9"/>
<line x1="532.13" x2="552.53" y1="897.5" y2="897.5" stroke="#808080" stroke-width="2.9"/>
<rect x="620.05" y="822.50" width="2.9" height="75.00" fill="#808080"/>
<rect x="611.20" y="821.05" width="20.5" height="2.9" fill="#808080"/>
<rect x="699.05" y="735.40" width="2.9" height="162.10" fill="#808080"/>
<rect x="690.20" y="733.95" width="20.5" height="2.9" fill="#808080"/>
<rect x="778.05" y="711.50" width="2.9" height="186.00" fill="#808080"/>
<rect x="769.20" y="710.05" width="20.5" height="2.9" fill="#808080"/>
<rect x="857.05" y="777.30" width="2.9" height="120.20" fill="#808080"/>
<rect x="848.20" y="775.85" width="20.5" height="2.9" fill="#808080"/>
<rect x="936.05" y="768.50" width="2.9" height="129.00" fill="#808080"/>
<rect x="927.20" y="767.05" width="20.5" height="2.9" fill="#808080"/>
<rect x="1015.05" y="754.40" width="2.9" height="143.10" fill="#808080"/>
<rect x="1006.20" y="752.95" width="20.5" height="2.9" fill="#808080"/>
<rect x="1093.05" y="752.40" width="2.9" height="145.10" fill="#808080"/>
<rect x="1084.20" y="750.95" width="20.5" height="2.9" fill="#808080"/>
</g>
<rect x="69" y="700.0" width="1026" height="1" fill="#262626"/>
<rect x="69" y="897.0" width="1026" height="1" fill="#262626"/>
<rect x="69" y="700.0" width="1" height="198.0" fill="#262626"/>
<rect x="1094" y="700.0" width="1" height="198.0" fill="#262626"/>
<g style="font-family:'DejaVu Sans','Liberation Sans',sans-serif" font-size="19.44" text-anchor="end" fill="#000" stroke="#000" stroke-width="0.2">
<text x="64.5" y="846.40" textLength="24.2" lengthAdjust="spacing">10</text>
<text x="64.5" y="788.50" textLength="24.2" lengthAdjust="spacing">20</text>
<text x="64.5" y="729.40" textLength="24.2" lengthAdjust="spacing">30</text>
<text x="65.6" y="893.0">0</text>
</g>
<g style="font-family:'DejaVu Sans','Liberation Sans',sans-serif" font-size="23.61" text-anchor="middle">
<text transform="translate(69.50 926.7) scale(0.985 1.055)" fill="#54d5e4" stroke="#54d5e4" stroke-width="0.3">0%</text>
<text transform="translate(148.35 926.7) scale(0.985 1.055)" fill="#54d5e4" stroke="#54d5e4" stroke-width="0.3">0%</text>
<text transform="translate(227.19 926.7) scale(0.985 1.055)" fill="#54d5e4" stroke="#54d5e4" stroke-width="0.3">0%</text>
<text transform="translate(306.04 926.7) scale(0.985 1.055)" fill="#54d5e4" stroke="#54d5e4" stroke-width="0.3">0%</text>
<text transform="translate(384.88 926.7) scale(0.985 1.055)" fill="#54d5e4" stroke="#54d5e4" stroke-width="0.3">0%</text>
<text transform="translate(463.73 926.7) scale(0.985 1.055)" fill="#54d5e4" stroke="#54d5e4" stroke-width="0.3">0%</text>
<text transform="translate(542.28 926.7) scale(0.995 1.055)" fill="#2b98d2" stroke="#2b98d2" stroke-width="0.3">25%</text>
<text transform="translate(621.42 926.7) scale(0.995 1.055)" fill="#1868ba" stroke="#1868ba" stroke-width="0.3">60%</text>
<text transform="translate(700.27 926.7) scale(0.995 1.055)" fill="#1868ba" stroke="#1868ba" stroke-width="0.3">70%</text>
<text transform="translate(779.12 926.7) scale(0.995 1.055)" fill="#1868ba" stroke="#1868ba" stroke-width="0.3">60%</text>
<text transform="translate(857.96 926.7) scale(0.995 1.055)" fill="#1868ba" stroke="#1868ba" stroke-width="0.3">70%</text>
<text transform="translate(936.81 926.7) scale(0.995 1.055)" fill="#1868ba" stroke="#1868ba" stroke-width="0.3">60%</text>
<text transform="translate(1015.65 926.7) scale(0.995 1.055)" fill="#1868ba" stroke="#1868ba" stroke-width="0.3">60%</text>
<text transform="translate(1094.50 926.7) scale(0.995 1.055)" fill="#1868ba" stroke="#1868ba" stroke-width="0.3">65%</text>
</g>
</svg>
</body></html>
